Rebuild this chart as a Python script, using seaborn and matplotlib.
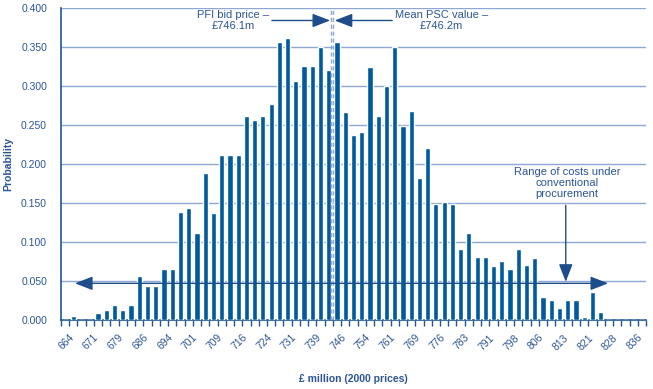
import matplotlib
matplotlib.use("Agg")
import matplotlib.pyplot as plt
import seaborn as sns
import pandas as pd
import numpy as np

# ---- data ----
probabilities = [
    0.000, 0.005, 0.000, 0.000, 0.009, 0.013, 0.019, 0.013, 0.019, 0.057,
    0.044, 0.044, 0.066, 0.066, 0.139, 0.143, 0.112, 0.188, 0.137, 0.212,
    0.212, 0.212, 0.261, 0.257, 0.261, 0.277, 0.356, 0.362, 0.306, 0.326,
    0.326, 0.350, 0.320, 0.356, 0.267, 0.237, 0.241, 0.325, 0.261, 0.300,
    0.350, 0.249, 0.268, 0.182, 0.220, 0.149, 0.151, 0.149, 0.091, 0.111,
    0.081, 0.081, 0.069, 0.075, 0.065, 0.091, 0.070, 0.079, 0.030, 0.025,
    0.015, 0.025, 0.025, 0.004, 0.036, 0.010, 0.000, 0.000, 0.000, 0.000,
    0.000,
]
bin_ids = [f"bin{i:02d}" for i in range(len(probabilities))]
tick_labels = ["664", "671", "679", "686", "694", "701", "709", "716", "724",
               "731", "739", "746", "754", "761", "769", "776", "783", "791",
               "798", "806", "813", "821", "828", "836"]
yticks = [0.0, 0.05, 0.10, 0.15, 0.20, 0.25, 0.30, 0.35, 0.40]

BAR = "#005a9c"
TXT = "#2b5597"
GRID = "#8ea8d6"
SPINE = "#1f5896"
DARK = "#1d4d8a"

sns.set_theme(style="white")
plt.rcParams["font.family"] = ["Liberation Sans", "DejaVu Sans"]

fig = plt.figure(figsize=(6.53, 3.89), dpi=100)
ax = fig.add_axes([0.0934, 0.1774, 0.8959, 0.8020])

df = pd.DataFrame({"bin": bin_ids, "prob": probabilities})
sns.barplot(data=df, x="bin", y="prob", order=bin_ids, color=BAR,
            saturation=1, width=0.63, ax=ax, zorder=3)

n = len(bin_ids)
ax.set_xlim(-0.5, n - 0.5)
ax.set_ylim(0, 0.4)

# gridlines
ax.set_yticks(yticks)
ax.set_yticklabels([f"{v:.3f}" for v in yticks], color=TXT, fontsize=7.5)
ax.yaxis.grid(True, color=GRID, linewidth=1)
ax.xaxis.grid(False)
ax.set_axisbelow(True)
ax.tick_params(axis="y", length=0, pad=10)

# x ticks at bin edges, labels every third bin
edges = np.arange(-0.5, n, 1.0)
ax.set_xticks(edges)
ax.set_xticklabels([])
ax.tick_params(axis="x", which="major", length=4, width=1, color=SPINE,
               direction="out", bottom=True)
lab_pos = [i + 0.45 for i in range(0, n - 1, 3)][:len(tick_labels)]
ax.set_xticks(lab_pos, minor=True)
ax.set_xticklabels(tick_labels, minor=True, rotation=45, ha="right",
                   rotation_mode="anchor", color=TXT, fontsize=7.5)
ax.tick_params(axis="x", which="minor", length=0, pad=9)

for s in ["top", "right"]:
    ax.spines[s].set_visible(False)
for s in ["left", "bottom"]:
    ax.spines[s].set_color(SPINE)
    ax.spines[s].set_linewidth(1.2)

ax.set_xlabel("£ million (2000 prices)", fontsize=7.5, fontweight="bold",
              color=TXT, labelpad=16)
ax.set_ylabel("Probability", fontsize=7.5, fontweight="bold", color=TXT,
              labelpad=6)

# dashed reference lines (PFI bid / mean PSC)
for xv in [32.24, 32.56]:
    ax.axvline(xv, color=GRID, linestyle=(0, (3, 2)), linewidth=1, zorder=4)

# top annotations
ax.annotate("", xy=(32.16, 0.384), xytext=(25.1, 0.384),
            arrowprops=dict(arrowstyle="-|>,head_length=0.9,head_width=0.35",
                            color=DARK, lw=1, shrinkA=0, shrinkB=0), zorder=5)
ax.annotate("", xy=(32.72, 0.384), xytext=(39.7, 0.384),
            arrowprops=dict(arrowstyle="-|>,head_length=0.9,head_width=0.35",
                            color=DARK, lw=1, shrinkA=0, shrinkB=0), zorder=5)
ax.text(20.4, 0.384, "PFI bid price –\n£746.1m", ha="center", va="center",
        fontsize=8, color=TXT, linespacing=1.15)
ax.text(45.7, 0.384, "Mean PSC value –\n£746.2m", ha="center", va="center",
        fontsize=8, color=TXT, linespacing=1.15)

# range of costs arrow
ax.annotate("", xy=(1.2, 0.047), xytext=(65.9, 0.047),
            arrowprops=dict(arrowstyle="<|-|>,head_length=0.9,head_width=0.35",
                            color=DARK, lw=1, shrinkA=0, shrinkB=0), zorder=5)
ax.annotate("", xy=(60.76, 0.049), xytext=(60.76, 0.147),
            arrowprops=dict(arrowstyle="-|>,head_length=0.9,head_width=0.35",
                            color=DARK, lw=1, shrinkA=0, shrinkB=0), zorder=5)
ax.text(60.9, 0.176, "Range of costs under\nconventional\nprocurement",
        ha="center", va="center", fontsize=8, color=TXT, linespacing=1.15)

fig.savefig("out.png", dpi=100)
